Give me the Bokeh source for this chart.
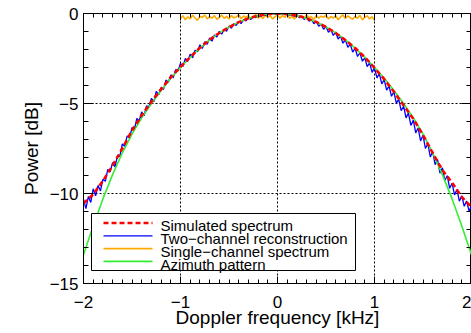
import numpy as np
from bokeh.plotting import figure
from bokeh.models import (LinearAxis, Range1d, FixedTicker, CustomJSTickFormatter,
                          BoxAnnotation, Arrow, Label)
from bokeh.embed import file_html
from bokeh.resources import INLINE

FONT = "Liberation Sans"

# ---------------- data ----------------
# coarse grid (0.1 kHz) for the smooth curves
freq_coarse = np.round(np.linspace(-2.0, 2.0, 41), 3)
azimuth_pattern = [
    -13.4, -11.8, -10.3, -8.95, -7.75, -6.7, -5.8, -5.0, -4.28, -3.6, -3.0,
    -2.43, -1.92, -1.47, -1.08, -0.75, -0.48, -0.27, -0.12, -0.03, 0.0,
    -0.03, -0.12, -0.27, -0.48, -0.75, -1.08, -1.47, -1.92, -2.43, -3.0,
    -3.6, -4.28, -5.0, -5.8, -6.7, -7.75, -8.95, -10.3, -11.8, -13.4]
simulated_spectrum = [
    -10.55, -10.05, -9.3, -8.45, -7.5, -6.5, -5.65, -4.9, -4.2, -3.55, -2.97,
    -2.42, -1.9, -1.46, -1.08, -0.76, -0.48, -0.27, -0.12, -0.03, 0.0,
    -0.03, -0.12, -0.27, -0.47, -0.75, -1.08, -1.48, -1.92, -2.43, -3.02,
    -3.65, -4.35, -5.1, -5.85, -6.75, -7.75, -8.7, -9.4, -10.2, -10.75]

# fine grid (0.025 kHz) for the noisy curves
freq_fine = np.round(np.linspace(-2.0, 2.0, 161), 4)
two_channel = [
    -10.33, -10.84, -10.17, -10.50, -9.74, -10.13, -9.55, -9.86, -9.21, -9.32,
    -8.66, -8.80, -8.28, -8.52, -7.91, -7.93, -7.25, -7.38, -6.80, -6.93,
    -6.34, -6.43, -5.83, -5.96, -5.47, -5.68, -5.13, -5.18, -4.72, -4.91,
    -4.33, -4.52, -4.11, -4.22, -3.70, -3.82, -3.41, -3.58, -3.12, -3.19,
    -2.77, -2.95, -2.50, -2.65, -2.26, -2.46, -2.04, -2.12, -1.74, -1.94,
    -1.57, -1.71, -1.36, -1.54, -1.20, -1.31, -0.99, -1.15, -0.87, -0.99,
    -0.69, -0.82, -0.57, -0.66, -0.43, -0.56, -0.34, -0.41, -0.23, -0.33,
    -0.17, -0.23, -0.09, -0.17, -0.05, -0.11, -0.01, -0.06, 0.00, -0.03,
    0.00,
    -0.04, -0.01, -0.07, -0.01, -0.10, -0.04, -0.17, -0.07, -0.23, -0.15,
    -0.33, -0.21, -0.43, -0.33, -0.57, -0.43, -0.71, -0.58, -0.88, -0.71,
    -1.04, -0.89, -1.22, -1.04, -1.42, -1.26, -1.65, -1.46, -1.88, -1.70,
    -2.14, -1.94, -2.39, -2.18, -2.65, -2.46, -2.95, -2.74, -3.27, -3.02,
    -3.58, -3.35, -3.91, -3.67, -4.26, -4.02, -4.60, -4.35, -4.98, -4.77,
    -5.40, -5.15, -5.80, -5.53, -6.22, -5.93, -6.63, -6.36, -7.08, -6.77,
    -7.50, -7.22, -7.97, -7.68, -8.40, -8.12, -8.87, -8.57, -9.28, -9.01,
    -9.71, -9.43, -10.08, -9.78, -10.43, -10.13, -10.71, -10.42, -10.98, -10.67]

freq_single = np.round(np.linspace(-1.0, 1.0, 81), 4)
single_channel = [
    -0.28, -0.12, -0.35, -0.18, -0.30, -0.10, -0.25, -0.38, -0.15, -0.22,
    -0.08, -0.30, -0.17, -0.26, -0.12, -0.33, -0.20, -0.09, -0.27, -0.16,
    -0.31, -0.11, -0.24, -0.19, -0.07, -0.29, -0.14, -0.23, -0.10, -0.32,
    -0.18, -0.06, -0.25, -0.15, -0.28, -0.09, -0.21, -0.13, -0.30, -0.17,
    -0.08,
    -0.26, -0.12, -0.22, -0.05, -0.27, -0.16, -0.31, -0.10, -0.20, -0.14,
    -0.29, -0.07, -0.24, -0.18, -0.33, -0.11, -0.26, -0.15, -0.21, -0.09,
    -0.30, -0.17, -0.25, -0.12, -0.35, -0.19, -0.08, -0.28, -0.14, -0.23,
    -0.32, -0.16, -0.27, -0.10, -0.36, -0.21, -0.13, -0.30, -0.18, -0.38]

x_major = [-2, -1, 0, 1, 2]
y_major = [-15, -10, -5, 0]
legend_labels = ["Simulated spectrum", "Two\u2212channel reconstruction",
                 "Single\u2212channel spectrum", "Azimuth pattern"]

# ---------------- figure ----------------
p = figure(width=471, height=333, x_range=Range1d(-2, 2), y_range=Range1d(-15, 0),
           output_backend="svg", toolbar_location=None,
           min_border_left=83, min_border_right=0, min_border_top=13,
           min_border_bottom=50, x_axis_location=None, y_axis_location=None)
p.background_fill_color = "white"
p.border_fill_color = "white"
p.outline_line_color = "black"
p.outline_line_width = 1

x_minor = [round(v, 2) for v in np.linspace(-2, 2, 41)]
y_minor = list(range(-15, 1))
xt = FixedTicker(ticks=x_major, minor_ticks=x_minor)
yt = FixedTicker(ticks=y_major, minor_ticks=y_minor)
fmt = CustomJSTickFormatter(code="return tick < 0 ? '\\u2212' + Math.abs(tick) : String(tick);")

def style(ax, ticker, labels, major_len, minor_len):
    ax.ticker = ticker
    ax.axis_line_color = "black"
    ax.major_tick_line_color = "black"
    ax.minor_tick_line_color = "black"
    ax.major_tick_in = major_len
    ax.major_tick_out = 0
    ax.minor_tick_in = minor_len
    ax.minor_tick_out = 0
    if labels:
        ax.formatter = fmt
        ax.major_label_text_font = FONT
        ax.major_label_text_font_size = "17px"
        ax.major_label_text_color = "black"
        ax.axis_label_text_font = FONT
        ax.axis_label_text_font_size = "19px"
        ax.axis_label_text_font_style = "normal"
        ax.axis_label_text_color = "black"
    else:
        ax.major_label_text_font_size = "0px"
        ax.major_label_standoff = 0
        ax.major_label_text_alpha = 0

xb = LinearAxis(axis_label="Doppler frequency [kHz]")
style(xb, xt, True, 7, 4)
xb.major_label_standoff = 12
xb.axis_label_standoff = -4
p.add_layout(xb, "below")

yl = LinearAxis(axis_label="Power [dB]")
style(yl, yt, True, 10, 5)
yl.major_label_standoff = 5
yl.axis_label_standoff = 5
p.add_layout(yl, "left")

xa = LinearAxis()
style(xa, xt, False, 7, 4)
p.add_layout(xa, "above")
yr = LinearAxis()
style(yr, yt, False, 10, 5)
p.add_layout(yr, "right")

p.xgrid.ticker = xt
p.ygrid.ticker = yt
for g in (p.xgrid, p.ygrid):
    g.grid_line_color = "black"
    g.grid_line_dash = "2 2"
    g.grid_line_width = 1
    g.grid_line_alpha = 1

series_styles = [
    dict(line_color="#ff0000", line_width=2.6, line_dash="5 3"),   # simulated
    dict(line_color="#0000ff", line_width=1.3, line_dash="solid"),  # two-channel
    dict(line_color="#ffaa00", line_width=1.6, line_dash="solid"),  # single-channel
    dict(line_color="#33ee33", line_width=1.6, line_dash="solid"),  # azimuth
]

p.line(freq_single, single_channel, **series_styles[2])
p.line(freq_fine, two_channel, **series_styles[1])
p.line(freq_coarse, azimuth_pattern, **series_styles[3])
p.line(freq_coarse, simulated_spectrum, **series_styles[0])

# ---------------- legend box (screen units from the frame's bottom-left) ----------------
LG_LEFT, LG_RIGHT, LG_BOTTOM, LG_TOP = 8, 272, 13, 70
ROW_STEP = 12.8
LINE_X0, LINE_X1, TEXT_X = 20, 69, 77
FIRST_LINE_Y, FIRST_TEXT_Y = 60.5, 57.6

p.add_layout(BoxAnnotation(left=LG_LEFT, right=LG_RIGHT, bottom=LG_BOTTOM, top=LG_TOP,
                           left_units="screen", right_units="screen",
                           bottom_units="screen", top_units="screen",
                           fill_color="white", fill_alpha=1.0,
                           line_color="black", line_alpha=1.0, line_width=1,
                           level="overlay"))
for i, (lab, st) in enumerate(zip(legend_labels, series_styles)):
    ly = FIRST_LINE_Y - i * ROW_STEP
    p.add_layout(Arrow(x_start=LINE_X0, y_start=ly, x_end=LINE_X1, y_end=ly,
                       start_units="screen", end_units="screen", start=None, end=None,
                       level="overlay", **st))
    p.add_layout(Label(x=TEXT_X, y=FIRST_TEXT_Y - i * ROW_STEP, x_units="screen",
                       y_units="screen", text=lab, text_font=FONT,
                       text_font_size="15px", text_color="black",
                       text_baseline="alphabetic", level="overlay"))

open("out.html", "w").write(file_html(p, INLINE))
